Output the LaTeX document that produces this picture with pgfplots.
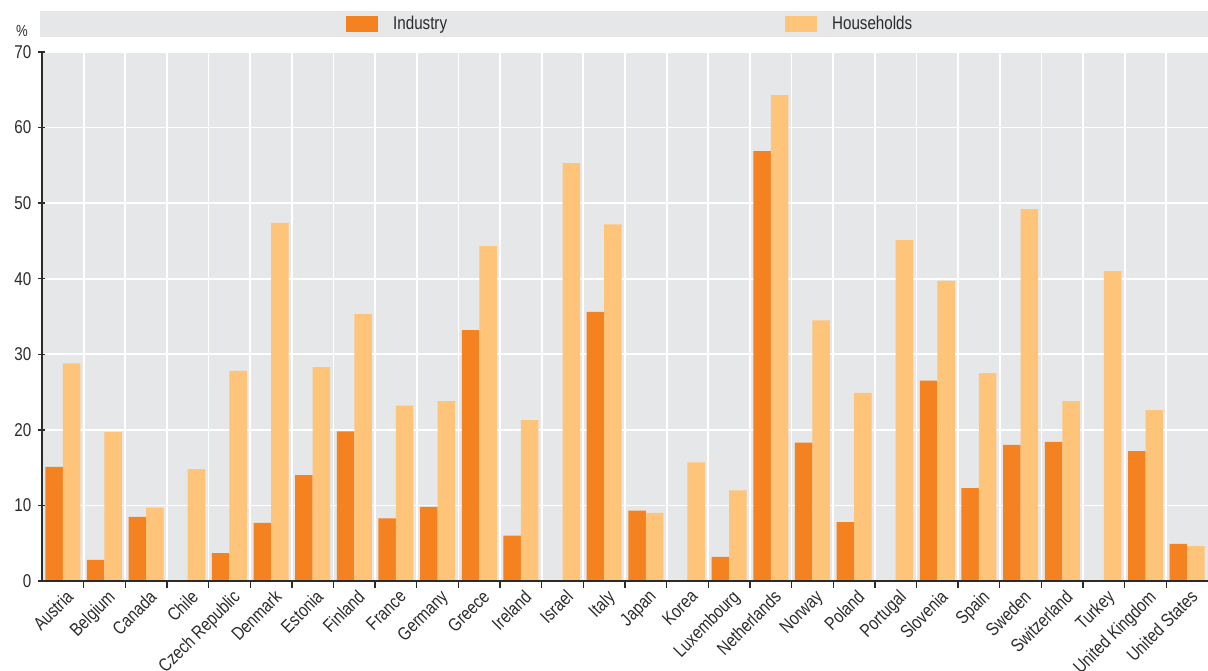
\documentclass[border=0pt]{standalone}
\usepackage{pgfplots}
\pgfplotsset{compat=1.18}
\usepackage{fontspec}
\setmainfont{Liberation Sans}[FakeStretch=0.82]
\definecolor{bgc}{HTML}{E6E7E8}
\definecolor{ind}{HTML}{F58220}
\definecolor{hh}{HTML}{FDC47A}
\definecolor{txt}{HTML}{2B2B2B}
\begin{document}
\fontsize{18.5}{22}\selectfont
\begin{tikzpicture}[x=1pt,y=1pt]
\path[use as bounding box] (-42,-89) rectangle (1166,581);
\fill[bgc] (-2,544) rectangle (1166,570);
\begin{axis}[
  at={(0,0)}, anchor=south west,
  scale only axis, width=1166pt, height=529pt,
  ymin=0, ymax=70, ytick={0,10,...,70},
  xmin=-0.5, xmax=27.5,
  xtick={0,...,27},
  xticklabels={Austria,Belgium,Canada,Chile,Czech Republic,Denmark,Estonia,Finland,France,Germany,Greece,Ireland,Israel,Italy,Japan,Korea,Luxembourg,Netherlands,Norway,Poland,Portugal,Slovenia,Spain,Sweden,Switzerland,Turkey,United Kingdom,United States},
  minor xtick={0.5,1.5,...,26.5},
  major x tick style={draw=none},
  minor tick length=7pt, major tick length=7pt,
  tick align=inside,
  axis x line=bottom, axis y line=left,
  axis line style={-, line width=1.3pt, color=txt},
  tick style={line width=1.3pt, color=txt},
  axis background/.style={fill=bgc},
  ymajorgrids, xminorgrids,
  grid style={white, line width=1.8pt},
  minor grid style={white, line width=1.8pt},
  ybar=0pt, bar width=17.5pt,
  /pgf/number format/assume math mode=true,
  tick label style={font=\fontsize{18.5}{22}\selectfont, color=txt},
  xticklabel style={rotate=45, anchor=north east, inner sep=1pt, yshift=-1pt, xshift=2pt},
  yticklabel style={inner sep=2pt, xshift=-5pt},
  ylabel={\%},
  every axis y label/.style={at={(axis description cs:0,1)}, anchor=center, xshift=-20pt, yshift=21pt, color=txt, font=\fontsize{16}{20}\selectfont},
  legend columns=2,
  legend style={at={(axis description cs:0.2607,1.053)}, anchor=west, draw=none, fill=none, inner sep=0pt, text=txt,
    /tikz/every odd column/.append style={column sep=13pt},
    /tikz/column 2/.append style={column sep=336pt},
    font=\fontsize{18.5}{22}\selectfont},
  legend image code/.code={\fill[#1] (0pt,-8pt) rectangle (32pt,8pt);},
]
\addplot[fill=ind, draw=none] coordinates {
(0,15.1) (1,2.8) (2,8.5) (4,3.7) (5,7.7) (6,14.0) (7,19.8) (8,8.3) (9,9.8)
(10,33.2) (11,6.0) (13,35.6) (14,9.3) (16,3.2) (17,56.9) (18,18.3) (19,7.8)
(21,26.5) (22,12.3) (23,18.0) (24,18.4) (26,17.2) (27,4.9)};
\addlegendentry{Industry}
\addplot[fill=hh, draw=none] coordinates {
(0,28.8) (1,19.7) (2,9.7) (3,14.8) (4,27.8) (5,47.4) (6,28.3) (7,35.3) (8,23.2) (9,23.8)
(10,44.3) (11,21.3) (12,55.3) (13,47.2) (14,9.0) (15,15.7) (16,12.0) (17,64.3) (18,34.5) (19,24.9)
(20,45.1) (21,39.7) (22,27.5) (23,49.2) (24,23.8) (25,41.0) (26,22.6) (27,4.6)};
\addlegendentry{Households}
\draw[line width=1.3pt, txt] (rel axis cs:0,0) -- (rel axis cs:1,0);
\end{axis}
\end{tikzpicture}
\end{document}
